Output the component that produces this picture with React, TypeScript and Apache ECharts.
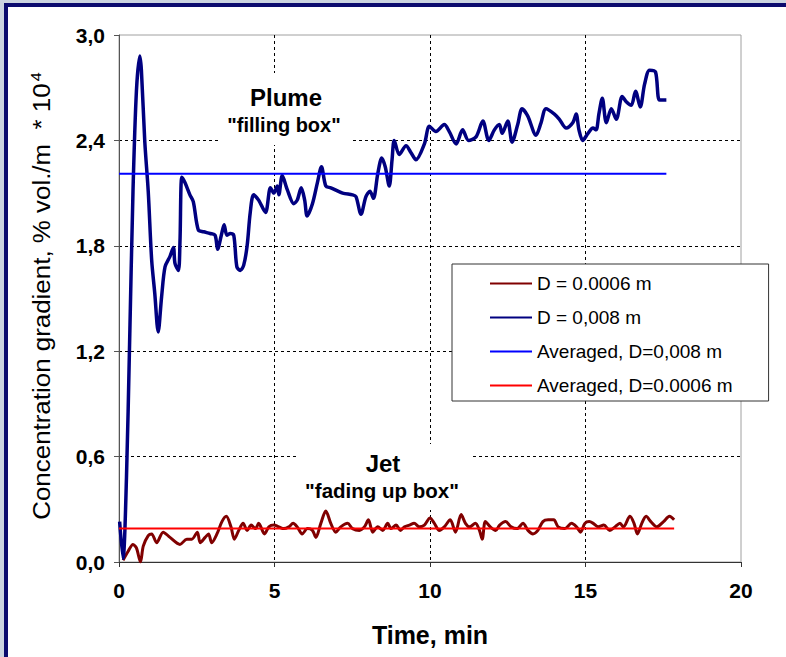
import React, { useEffect, useRef } from "react";
import * as echarts from "echarts";

// ---- data (time in min, concentration gradient in % vol./m * 10^4) ----
const plumeTime = [0.02, 0.13, 0.24, 0.34, 0.45, 0.56, 0.67, 0.72, 0.83, 0.94, 1.05, 1.15, 1.26, 1.37, 1.48, 1.64, 1.75, 1.8, 1.91, 1.96, 2.02, 2.12, 2.28, 2.39, 2.55, 2.72, 2.93, 3.09, 3.17, 3.29, 3.38, 3.47, 3.58, 3.69, 3.79, 3.9, 4.01, 4.12, 4.22, 4.33, 4.49, 4.71, 4.87, 4.98, 5.09, 5.14, 5.25, 5.41, 5.62, 5.73, 5.86, 5.97, 6.05, 6.22, 6.38, 6.51, 6.65, 6.81, 7.19, 7.51, 7.62, 7.78, 7.94, 8.07, 8.18, 8.32, 8.45, 8.56, 8.69, 8.78, 8.85, 9.01, 9.23, 9.39, 9.55, 9.82, 9.98, 10.19, 10.46, 10.62, 10.84, 11.05, 11.24, 11.48, 11.7, 11.89, 12.07, 12.23, 12.32, 12.5, 12.64, 12.82, 12.96, 13.14, 13.41, 13.57, 13.73, 14.0, 14.16, 14.38, 14.59, 14.7, 14.79, 14.91, 15.08, 15.24, 15.34, 15.43, 15.54, 15.67, 15.83, 15.99, 16.18, 16.31, 16.47, 16.61, 16.76, 16.9, 17.06, 17.25, 17.38, 17.6];
const plumeConc = [0.23, 0.02, 0.48, 1.24, 2.11, 2.68, 2.88, 2.8, 2.39, 2.11, 1.72, 1.53, 1.31, 1.51, 1.68, 1.74, 1.79, 1.7, 1.66, 1.82, 2.19, 2.16, 2.09, 2.05, 1.89, 1.88, 1.87, 1.86, 1.78, 1.86, 1.92, 1.86, 1.87, 1.86, 1.68, 1.66, 1.69, 1.8, 1.99, 2.09, 2.06, 1.99, 2.13, 2.1, 2.14, 2.09, 2.2, 2.12, 2.04, 2.06, 2.13, 2.06, 1.97, 2.04, 2.16, 2.25, 2.14, 2.13, 2.1, 2.09, 2.08, 1.98, 2.08, 2.11, 2.07, 2.21, 2.3, 2.25, 2.14, 2.29, 2.4, 2.32, 2.37, 2.33, 2.29, 2.38, 2.48, 2.45, 2.49, 2.45, 2.38, 2.46, 2.4, 2.42, 2.51, 2.4, 2.46, 2.49, 2.44, 2.51, 2.39, 2.49, 2.58, 2.54, 2.43, 2.5, 2.58, 2.55, 2.52, 2.47, 2.5, 2.55, 2.46, 2.4, 2.44, 2.47, 2.46, 2.55, 2.64, 2.5, 2.58, 2.52, 2.65, 2.62, 2.6, 2.68, 2.59, 2.72, 2.8, 2.79, 2.63, 2.63];

const jetTime = [0.13, 0.29, 0.45, 0.56, 0.69, 0.78, 0.94, 1.05, 1.21, 1.42, 1.64, 1.96, 2.18, 2.34, 2.52, 2.61, 2.77, 2.88, 2.98, 3.15, 3.31, 3.45, 3.6, 3.71, 3.85, 3.99, 4.12, 4.25, 4.39, 4.49, 4.68, 4.82, 4.98, 5.14, 5.3, 5.46, 5.6, 5.73, 5.89, 6.06, 6.22, 6.33, 6.49, 6.65, 6.81, 6.97, 7.13, 7.35, 7.51, 7.73, 7.89, 8.02, 8.16, 8.32, 8.48, 8.64, 8.75, 8.91, 9.05, 9.18, 9.34, 9.49, 9.66, 9.82, 10.0, 10.14, 10.3, 10.46, 10.65, 10.82, 11.0, 11.14, 11.27, 11.46, 11.59, 11.68, 11.78, 11.94, 12.11, 12.24, 12.43, 12.61, 12.8, 12.99, 13.15, 13.31, 13.47, 13.63, 13.8, 13.98, 14.12, 14.33, 14.55, 14.71, 14.84, 14.98, 15.12, 15.25, 15.41, 15.59, 15.78, 15.95, 16.11, 16.22, 16.43, 16.56, 16.67, 16.81, 16.95, 17.1, 17.29, 17.51, 17.7, 17.85];
const jetConc = [0.01, 0.06, 0.1, 0.08, 0.0, 0.09, 0.15, 0.16, 0.11, 0.17, 0.14, 0.1, 0.13, 0.13, 0.17, 0.11, 0.14, 0.16, 0.11, 0.16, 0.23, 0.26, 0.2, 0.13, 0.18, 0.22, 0.18, 0.21, 0.19, 0.22, 0.16, 0.2, 0.21, 0.2, 0.19, 0.2, 0.22, 0.2, 0.16, 0.19, 0.18, 0.14, 0.22, 0.29, 0.22, 0.17, 0.2, 0.22, 0.19, 0.18, 0.2, 0.24, 0.17, 0.2, 0.18, 0.22, 0.19, 0.21, 0.18, 0.2, 0.21, 0.22, 0.2, 0.21, 0.25, 0.22, 0.18, 0.2, 0.24, 0.17, 0.27, 0.22, 0.2, 0.22, 0.18, 0.13, 0.23, 0.2, 0.18, 0.21, 0.23, 0.2, 0.19, 0.22, 0.18, 0.16, 0.18, 0.23, 0.24, 0.24, 0.2, 0.19, 0.22, 0.2, 0.17, 0.22, 0.23, 0.22, 0.2, 0.21, 0.18, 0.2, 0.22, 0.2, 0.26, 0.22, 0.16, 0.22, 0.26, 0.23, 0.2, 0.23, 0.26, 0.24];

const plumeAvgTime = [0, 17.6];
const plumeAvgConc = [2.21, 2.21];
const jetAvgTime = [0, 17.85];
const jetAvgConc = [0.19, 0.19];

const seriesNames = ["D = 0.0006 m", "D = 0,008 m", "Averaged, D=0,008 m", "Averaged, D=0.0006 m"];

const FONT = "'Liberation Sans', Arial, sans-serif";

const zip = (a: number[], b: number[]) => a.map((x, i) => [x, b[i]]);

export default function App() {
  const ref = useRef<HTMLDivElement>(null);
  useEffect(() => {
    if (!ref.current) return;
    const chart = echarts.init(ref.current, undefined, { renderer: "svg" });
    const boldText = (text: string, x: number, y: number, size: number) => ({
      type: "text", z: 5, x, y,
      style: { text, fontSize: size, fontWeight: "bold", fontFamily: FONT, fill: "#000", align: "center", verticalAlign: "middle" },
    });
    chart.setOption({
      animation: false,
      backgroundColor: "#cbd4e0",
      grid: {
        left: 119, top: 35, right: 45, bottom: 95,
        show: true, borderColor: "#a0a0a0", borderWidth: 1, backgroundColor: "transparent",
      },
      xAxis: {
        type: "value", min: 0, max: 20, interval: 5,
        axisLine: { show: true, onZero: false, lineStyle: { color: "#333", width: 1 } },
        axisTick: { show: true, length: 5, lineStyle: { color: "#333" } },
        axisLabel: { margin: 18, fontSize: 21, fontWeight: "bold", color: "#000", fontFamily: FONT },
        splitLine: { show: true, showMinLine: false, showMaxLine: false, lineStyle: { type: [3, 3], color: "#000", width: 1 } },
      },
      yAxis: {
        type: "value", min: 0, max: 3, interval: 0.6,
        axisLine: { show: true, onZero: false, lineStyle: { color: "#555", width: 1 } },
        axisTick: { show: true, length: 5, lineStyle: { color: "#555" } },
        axisLabel: {
          margin: 14, fontSize: 21, fontWeight: "bold", color: "#000", fontFamily: FONT,
          formatter: (v: number) => v.toFixed(1).replace(".", ","),
        },
        splitLine: { show: true, showMinLine: false, showMaxLine: false, lineStyle: { type: [3, 3], color: "#000", width: 1 } },
      },
      legend: {
        orient: "vertical", left: 452, top: 264,
        padding: [10, 36, 6, 37], itemWidth: 42, itemHeight: 14, itemGap: 15,
        backgroundColor: "#fff", borderColor: "#333", borderWidth: 1,
        itemStyle: { opacity: 0 },
        textStyle: { fontSize: 19, fontFamily: FONT, color: "#000" },
        data: seriesNames,
      },
      series: [
        { name: seriesNames[0], type: "line", data: zip(jetTime, jetConc), symbol: "none", smooth: 0.3,
          lineStyle: { color: "#800000", width: 3 }, itemStyle: { color: "#800000" } },
        { name: seriesNames[1], type: "line", data: zip(plumeTime, plumeConc), symbol: "none", smooth: 0.3,
          lineStyle: { color: "#000080", width: 3.5 }, itemStyle: { color: "#000080" } },
        { name: seriesNames[2], type: "line", data: zip(plumeAvgTime, plumeAvgConc), symbol: "none",
          lineStyle: { color: "#0000ff", width: 2 }, itemStyle: { color: "#0000ff" } },
        { name: seriesNames[3], type: "line", data: zip(jetAvgTime, jetAvgConc), symbol: "none",
          lineStyle: { color: "#ff0000", width: 2 }, itemStyle: { color: "#ff0000" } },
      ],
      graphic: [
        { type: "rect", z: -10, shape: { x: 6, y: 5, width: 900, height: 800 },
          style: { fill: "#ffffff", stroke: "#0b0b6e", lineWidth: 4 } },
        { type: "rect", z: 1, shape: { x: 220, y: 73, width: 133, height: 72 }, style: { fill: "#ffffff" } },
        { type: "rect", z: 1, shape: { x: 297, y: 444, width: 173, height: 66 }, style: { fill: "#ffffff" } },
        boldText("Plume", 286, 97, 24),
        boldText("\"filling box\"", 284, 125, 20),
        boldText("Jet", 383, 463, 24),
        boldText("\"fading up box\"", 382, 490, 20.5),
        boldText("Time, min", 430, 635, 25),
        { type: "text", z: 5, x: 41, y: 296, rotation: Math.PI / 2, scaleX: 1.08,
          style: {
            text: "{a|Concentration gradient, % vol./m  * 10}{s|4}",
            align: "center", verticalAlign: "middle", fill: "#000",
            rich: {
              a: { fontSize: 24, fontFamily: FONT, fill: "#000" },
              s: { fontSize: 15, fontFamily: FONT, fill: "#000", verticalAlign: "top", padding: [0, 0, 10, 2] },
            },
          } },
      ],
    });
    return () => chart.dispose();
  }, []);
  return <div ref={ref} style={{ position: "fixed", left: 0, top: 0, width: 786, height: 657 }} />;
}
